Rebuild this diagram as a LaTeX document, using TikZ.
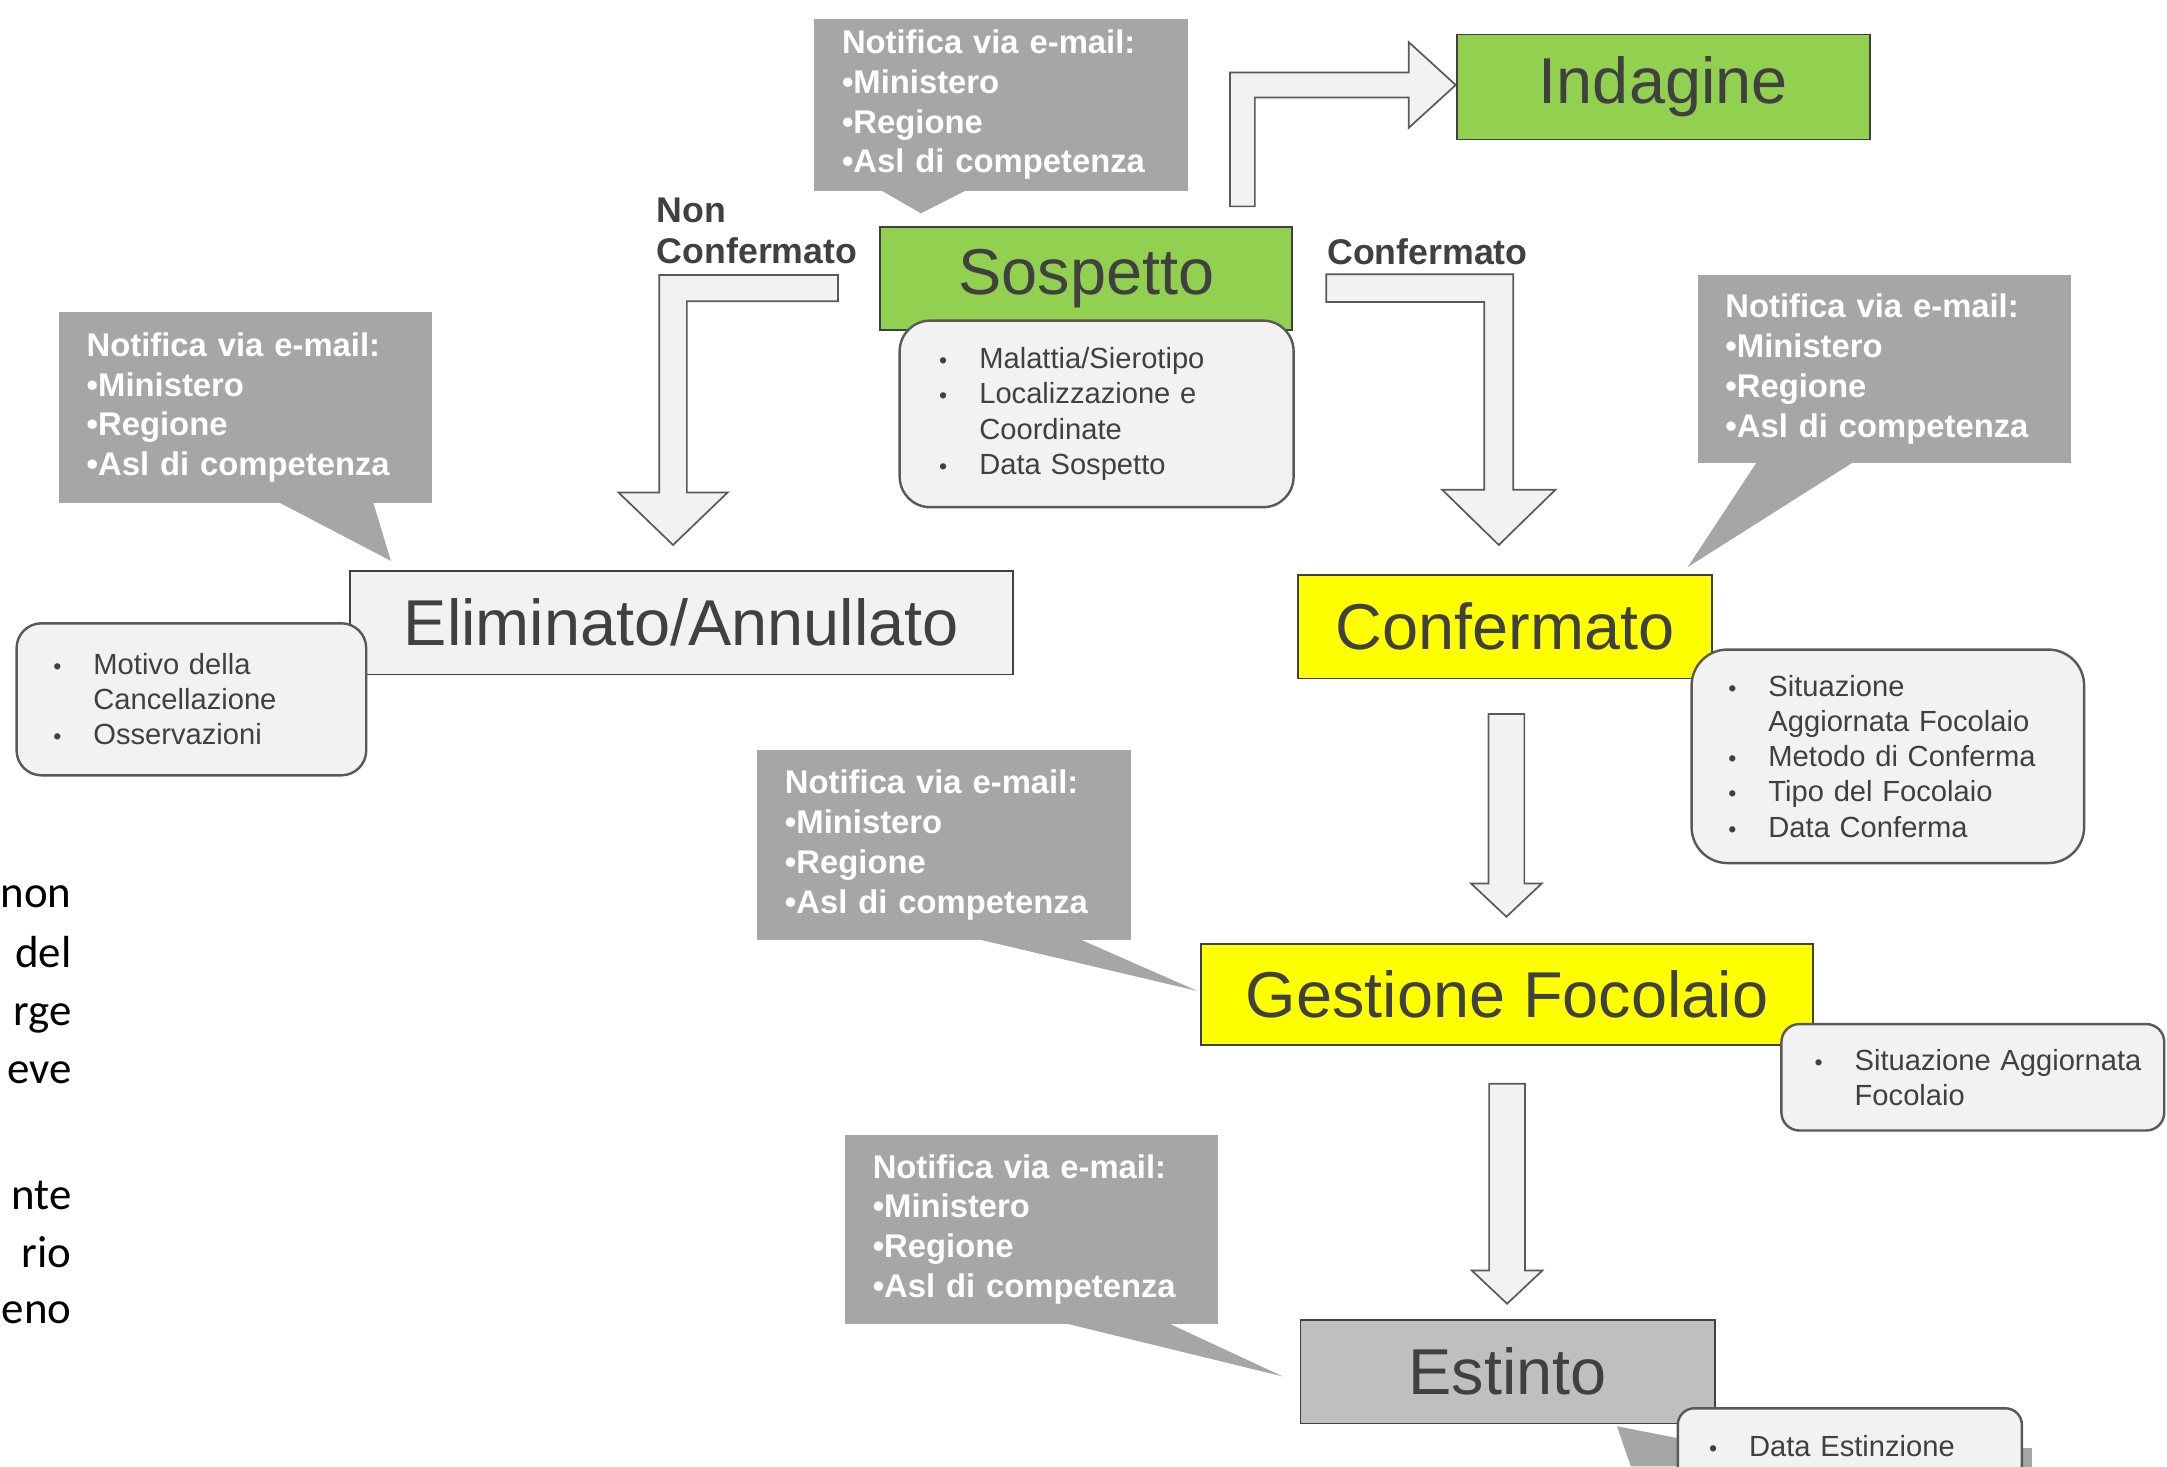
\documentclass[tikz,border=0pt]{standalone}
\usepackage{fontspec}
\setmainfont{Liberation Sans}
\newfontfamily\fragfont{Carlito}
\usetikzlibrary{calc}
\newdimen\pxu
\pxu=0.2mm
\definecolor{statusgreen}{HTML}{92D050}
\definecolor{statusyellow}{HTML}{FFFF00}
\definecolor{statusgray}{HTML}{BFBFBF}
\definecolor{lightfill}{HTML}{F2F2F2}
\definecolor{calloutgray}{HTML}{A6A6A6}
\definecolor{edgegray}{HTML}{595959}
\definecolor{labeltext}{HTML}{404040}
\newcommand{\bul}{\makebox[29\pxu][l]{\fontsize{9.5}{9.5}\selectfont\textbullet}}
\newcommand{\itm}[1]{\mbox{\bul#1}}
\newcommand{\cnt}[1]{\mbox{\hspace*{29\pxu}#1}}
\tikzset{
  state/.style={draw=labeltext, line width=0.75pt, text=labeltext, inner sep=0pt,
    font=\fontsize{26.7}{32}\selectfont},
  detail/.style={draw=edgegray, fill=lightfill, line width=1pt, text=labeltext,
    align=left, inner ysep=0pt, font=\fontsize{12}{14.5}\selectfont},
  notify/.style={fill=calloutgray, text=white, align=left, inner xsep=20\pxu, inner ysep=0pt,
    text width=230\pxu, font=\bfseries\fontsize{13.5}{16.4}\selectfont},
  tail/.style={fill=calloutgray},
  branch/.style={text=labeltext, align=left, inner sep=0pt, anchor=west,
    font=\bfseries\fontsize{14.7}{17}\selectfont},
  blockarrow/.style={draw=edgegray, fill=lightfill, line width=0.7pt, line join=miter},
  frag/.style={inner sep=0pt, anchor=base east, font=\fragfont\fontsize{18.5}{24}\selectfont}
}
\newcommand{\downblock}[2]{%
  \draw[blockarrow] ($(#1)+(-13,0)$) -- ($(#1 |- #2)+(-13,-24)$) -- ($(#1 |- #2)+(-25.5,-24)$)
    -- (#1 |- #2) -- ($(#1 |- #2)+(25.5,-24)$) -- ($(#1 |- #2)+(13,-24)$) -- ($(#1)+(13,0)$) -- cycle;}

\begin{document}
\begin{tikzpicture}[x=0.2mm, y=-0.2mm]
    \useasboundingbox (0,0) rectangle (1568,1061);
    \clip (0,0) rectangle (1568,1061);

    \node[notify, minimum height=124.5\pxu] (nSos) at (724.25,75.75)
      {Notifica via e-mail:\\ \textbullet Ministero\\ \textbullet Regione\\ \textbullet Asl di competenza};
    \node[notify, minimum height=137.7\pxu] (nElim) at (177.75,294.85)
      {Notifica via e-mail:\\ \textbullet Ministero\\ \textbullet Regione\\ \textbullet Asl di competenza};
    \node[notify, minimum height=136\pxu] (nConf) at (1363.5,267)
      {Notifica via e-mail:\\ \textbullet Ministero\\ \textbullet Regione\\ \textbullet Asl di competenza};
    \node[notify, minimum height=137\pxu] (nGest) at (683,611.5)
      {Notifica via e-mail:\\ \textbullet Ministero\\ \textbullet Regione\\ \textbullet Asl di competenza};
    \node[notify, minimum height=137\pxu] (nEst) at (746.5,889.5)
      {Notifica via e-mail:\\ \textbullet Ministero\\ \textbullet Regione\\ \textbullet Asl di competenza};

    \node[state, fill=statusgreen, minimum width=299\pxu, minimum height=76\pxu] (ind) at (1203.5,63) {Indagine};
    \node[state, fill=statusgreen, minimum width=298\pxu, minimum height=75\pxu] (sos) at (786,201.5) {Sospetto};
    \node[state, fill=lightfill, minimum width=480\pxu, minimum height=75\pxu] (elim) at (493,450.5) {Eliminato/Annullato};
    \node[state, fill=statusyellow, minimum width=300\pxu, minimum height=75\pxu] (conf) at (1089,453.5) {Confermato};
    \node[state, fill=statusyellow, minimum width=443\pxu, minimum height=73\pxu] (gest) at (1090.5,719.5) {Gestione Focolaio};
    \node[state, fill=statusgray, minimum width=300\pxu, minimum height=75\pxu] (est) at (1091,992.5) {Estinto};

    \fill[tail] ($(nSos.south west)+(48,-1)$) -- ($(sos.north west)+(30,-9)$) -- ($(nSos.south west)+(111,-1)$) -- cycle;
    \fill[tail] ($(nElim.south west)+(158.5,-1)$) -- ($(elim.north west)+(30.5,-6.5)$) -- ($(nElim.south west)+(227.5,-1)$) -- cycle;
    \fill[tail] ($(nConf.south west)+(43,-1)$) -- ($(conf.north east)+(-18.5,-5)$) -- ($(nConf.south west)+(113,-1)$) -- cycle;
    \fill[tail] ($(nGest.south west)+(159,-1)$) -- ($(gest.west)+(-2,-2.5)$) -- ($(nGest.south west)+(233,-1)$) -- cycle;
    \fill[tail] ($(nEst.south west)+(159,-1)$) -- ($(est.west)+(-12,3.5)$) -- ($(nEst.south west)+(234,-1)$) -- cycle;

    \fill[tail] (1170,1032) -- (1216,1041) -- (1216,1061) -- (1180,1061) -- cycle;
    \fill[tail] (1216,1048) rectangle (1470,1070);

    \node[detail, rounded corners=22\pxu, minimum height=135\pxu, inner xsep=28.6\pxu, text width=227.8\pxu] (sosd) at (793.5,299.5)
      {\itm{Malattia/Sierotipo}\\ \itm{Localizzazione e}\\ \cnt{Coordinate}\\ \itm{Data Sospetto}};
    \node[detail, rounded corners=18\pxu, minimum height=110\pxu, inner xsep=26.6\pxu, text width=199.8\pxu] (elimd) at (138.5,506)
      {\itm{Motivo della}\\ \cnt{Cancellazione}\\ \itm{Osservazioni}};
    \node[detail, rounded corners=26\pxu, minimum height=154.5\pxu, inner xsep=26.6\pxu, text width=230.8\pxu] (confd) at (1366,547.25)
      {\itm{Situazione}\\ \cnt{Aggiornata Focolaio}\\ \itm{Metodo di Conferma}\\ \itm{Tipo del Focolaio}\\ \itm{Data Conferma}};
    \node[detail, rounded corners=13\pxu, minimum height=77\pxu, inner xsep=24\pxu, text width=229\pxu] (gestd) at (1427.5,779.5)
      {\itm{Situazione Aggiornata}\\ \cnt{Focolaio}};
    \node[detail, rounded corners=12\pxu, minimum height=54\pxu, inner xsep=22.6\pxu, text width=203.8\pxu] (estd) at (1338.5,1046)
      {\itm{Data Estinzione}};

    \node[branch] (nonc) at (475,167) {Non\\Confermato};
    \node[branch] (yesc) at (960,182) {Confermato};

    \coordinate (s1) at ($(sos.north)+(113,-14)$);
    \coordinate (t1) at ($(ind.west)+(0,-1.5)$);
    \draw[blockarrow] ($(s1)+(-9,0)$) -- ($(s1 |- t1)+(-9,-9)$) -- ($(t1)+(-34,-9)$) -- ($(t1)+(-34,-31)$)
      -- (t1) -- ($(t1)+(-34,31)$) -- ($(t1)+(-34,9)$) -- ($(s1 |- t1)+(9,9)$) -- ($(s1)+(9,0)$) -- cycle;

    \coordinate (s2) at ($(sos.west)+(-30,7)$);
    \coordinate (t2) at ($(elim.north)+(-6,-18)$);
    \draw[blockarrow] ($(s2)+(0,-9.5)$) -- ($(s2 -| t2)+(-10,-9.5)$) -- ($(t2)+(-10,-38)$) -- ($(t2)+(-39.5,-38)$)
      -- (t2) -- ($(t2)+(39.5,-38)$) -- ($(t2)+(10,-38)$) -- ($(s2 -| t2)+(10,9.5)$) -- ($(s2)+(0,9.5)$) -- cycle;

    \coordinate (s5) at ($(sos.east)+(24,7)$);
    \coordinate (t5) at ($(conf.north)+(-4.5,-21)$);
    \draw[blockarrow] ($(s5)+(0,-10)$) -- ($(s5 -| t5)+(10.5,-10)$) -- ($(t5)+(10.5,-40)$) -- ($(t5)+(41,-40)$)
      -- (t5) -- ($(t5)+(-41,-40)$) -- ($(t5)+(-10.5,-40)$) -- ($(s5 -| t5)+(-10.5,10)$) -- ($(s5)+(0,10)$) -- cycle;

    \coordinate (s3) at ($(conf.south)+(1,25)$);
    \coordinate (t3) at ($(gest.north)+(0,-19)$);
    \downblock{s3}{t3}
    \coordinate (s4) at ($(gest.south)+(0,27.5)$);
    \coordinate (t4) at ($(est.north)+(0,-11)$);
    \downblock{s4}{t4}

    \node[frag] (fr1) at (52,657) {non};
    \node[frag] (fr2) at (52,700) {del};
    \node[frag] (fr3) at (52,742) {rge};
    \node[frag] (fr4) at (52,784) {eve};
    \node[frag] (fr5) at (52,875) {nte};
    \node[frag] (fr6) at (52,917) {rio};
    \node[frag] (fr7) at (52,958) {eno};
  \end{tikzpicture}
\end{document}
